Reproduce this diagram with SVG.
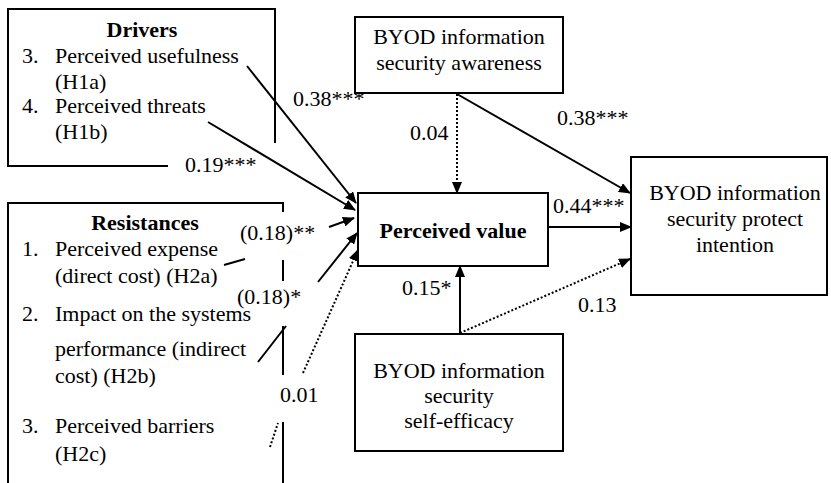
<svg xmlns="http://www.w3.org/2000/svg" width="831" height="483" viewBox="0 0 831 483">
<defs>
<style>
text{font-family:'Liberation Serif','Tinos','DejaVu Serif',serif;font-size:22px;fill:#000}
.b{font-weight:bold}
.m{text-anchor:middle}
.box{fill:#fff;stroke:#000;stroke-width:2}
.open{fill:none;stroke:#000;stroke-width:2}
.ln{fill:none;stroke:#000;stroke-width:2}
.dt{fill:none;stroke:#000;stroke-width:2;stroke-dasharray:2 2}
</style>
<marker id="ah" markerUnits="userSpaceOnUse" markerWidth="12" markerHeight="10" refX="11" refY="5" orient="auto">
<path d="M0,0 L12,5 L0,10 z" fill="#000"/>
</marker>
</defs>
<rect width="831" height="483" fill="#fff"/>

<g id="drivers">
<path class="open" d="M168,166 H8 V9 H275 V143"/>
<text class="b m" x="142" y="37">Drivers</text>
<text x="22" y="63">3.</text><text x="55" y="63">Perceived usefulness</text>
<text x="55" y="89">(H1a)</text>
<text x="22" y="113">4.</text><text x="55" y="113">Perceived threats</text>
<text x="55" y="139">(H1b)</text>
</g>

<g id="resistances">
<path class="open" d="M8,483 V203 H283 V212 M283,260 V281 M283,326 V375 M283,422 V483"/>
<text class="b m" x="145" y="230">Resistances</text>
<text x="22" y="256">1.</text><text x="55" y="256">Perceived expense</text>
<text x="55" y="283">(direct cost) (H2a)</text>
<text x="22" y="321">2.</text><text x="55" y="321">Impact on the systems</text>
<text x="55" y="356">performance (indirect</text>
<text x="55" y="383">cost) (H2b)</text>
<text x="22" y="433">3.</text><text x="55" y="433">Perceived barriers</text>
<text x="55" y="461">(H2c)</text>
</g>

<g id="awareness">
<rect class="box" x="355" y="17" width="208" height="76"/>
<text class="m" x="459" y="44">BYOD information</text>
<text class="m" x="459" y="70">security awareness</text>
</g>

<g id="value">
<rect class="box" x="358" y="193" width="190" height="73"/>
<text class="b m" x="453" y="238">Perceived value</text>
</g>

<g id="intention">
<rect class="box" x="631" y="157" width="196" height="138"/>
<text class="m" x="735" y="200">BYOD information</text>
<text class="m" x="735" y="226">security protect</text>
<text class="m" x="735" y="252">intention</text>
</g>

<g id="efficacy">
<rect class="box" x="355" y="334" width="208" height="117"/>
<text class="m" x="459" y="378">BYOD information</text>
<text class="m" x="459" y="403">security</text>
<text class="m" x="459" y="428">self-efficacy</text>
</g>

<g id="connectors">
<line class="ln" x1="247" y1="66" x2="356" y2="203" marker-end="url(#ah)"/>
<line class="ln" x1="208" y1="122" x2="355" y2="210" marker-end="url(#ah)"/>
<line class="ln" x1="224" y1="265" x2="245" y2="259"/>
<line class="ln" x1="329" y1="227" x2="354" y2="218" marker-end="url(#ah)"/>
<line class="ln" x1="258" y1="362" x2="286" y2="326"/>
<line class="ln" x1="318" y1="282" x2="357" y2="233" marker-end="url(#ah)"/>
<line class="dt" x1="270" y1="447" x2="278" y2="423"/>
<line class="dt" x1="303" y1="373" x2="358" y2="250" marker-end="url(#ah)"/>
<line class="dt" x1="457" y1="94" x2="457" y2="193" marker-end="url(#ah)"/>
<line class="ln" x1="457" y1="94" x2="630" y2="193" marker-end="url(#ah)"/>
<line class="ln" x1="548" y1="227" x2="631" y2="227" marker-end="url(#ah)"/>
<line class="ln" x1="460" y1="334" x2="460" y2="266" marker-end="url(#ah)"/>
<line class="dt" x1="460" y1="333" x2="630" y2="259" marker-end="url(#ah)"/>
</g>

<g id="labels">
<text x="293" y="106">0.38***</text>
<text x="185" y="172">0.19***</text>
<text x="240" y="240">(0.18)**</text>
<text x="237" y="304">(0.18)*</text>
<text x="280" y="402">0.01</text>
<text x="410" y="140">0.04</text>
<text x="557" y="125">0.38***</text>
<text x="553" y="213">0.44***</text>
<text x="402" y="295">0.15*</text>
<text x="578" y="312">0.13</text>
</g>
</svg>
